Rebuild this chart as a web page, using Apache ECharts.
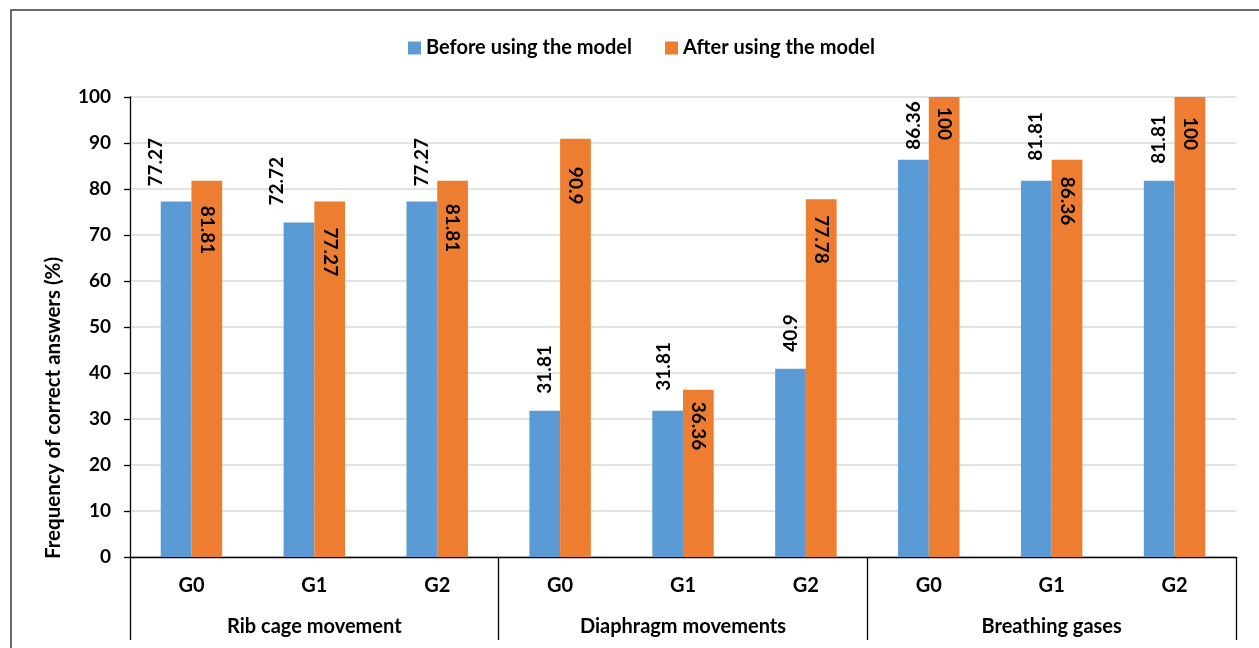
<!DOCTYPE html>
<html>
<head>
<meta charset="utf-8">
<title>Frequency of correct answers</title>
<script src="https://cdn.jsdelivr.net/npm/echarts@6/dist/echarts.min.js"></script>
<style>
  html, body { margin: 0; padding: 0; background: #ffffff; }
  #chart { width: 1259px; height: 648px; }
</style>
</head>
<body>
<div id="chart"></div>
<script>
// Groups on the x axis (G0, G1, G2 inside each topic)
const categories = ['G0', 'G1', 'G2', 'G0', 'G1', 'G2', 'G0', 'G1', 'G2'];
const topics = ['Rib cage movement', 'Diaphragm movements', 'Breathing gases'];

// Frequency of correct answers (%)
const beforeModel = [77.27, 72.72, 77.27, 31.81, 31.81, 40.9, 86.36, 81.81, 81.81];
const afterModel = [81.81, 77.27, 81.81, 90.9, 36.36, 77.78, 100, 86.36, 100];

const seriesNames = ['Before using the model', 'After using the model'];
const yTicks = { min: 0, max: 100, interval: 10 };

// Hand-placed label nudges (pixels): gap from bar end, sideways shift
const beforeLabelGap = [15, 17, 15, 17, 20, 17, 10, 20, 17];
const beforeLabelShift = [-20, -22, 0, 0, -4, 0, 0, 0, 0];
const afterLabelGap = [25, 26, 23, 28, 12, 16, 10, 17, 20];

const FONT = 'Lato, "Liberation Sans", sans-serif';
const BLUE = '#5b9bd5';
const ORANGE = '#ed7d31';

const chart = echarts.init(document.getElementById('chart'), null, { renderer: 'canvas' });

const labelText = {
  color: '#000000',
  fontFamily: FONT,
  fontWeight: 'bold',
  fontSize: 19
};

const beforeData = beforeModel.map((v, i) => ({
  value: v,
  label: {
    distance: beforeLabelGap[i],
    // offset is in the label's own (rotated) frame: y here moves it sideways
    offset: [0, beforeLabelShift[i]]
  }
}));

const afterData = afterModel.map((v, i) => ({
  value: v,
  label: { distance: afterLabelGap[i] }
}));

const option = {
  animation: false,
  backgroundColor: '#ffffff',
  textStyle: { fontFamily: FONT },
  graphic: [
    {
      type: 'rect',
      silent: true,
      shape: { x: 11, y: 10, width: 1400, height: 800 },
      style: { fill: 'none', stroke: '#3a3a3a', lineWidth: 1.5 }
    },
    {
      type: 'text',
      silent: true,
      x: 53,
      y: 408,
      rotation: Math.PI / 2,
      style: {
        text: 'Frequency of correct answers (%)',
        fontFamily: FONT,
        fontWeight: 'bold',
        fontSize: 20.5,
        fill: '#000000',
        align: 'center',
        verticalAlign: 'middle'
      }
    }
  ],
  legend: {
    top: 38,
    left: 408,
    padding: 0,
    itemWidth: 13,
    itemHeight: 13,
    itemGap: 33,
    icon: 'rect',
    textStyle: {
      fontFamily: FONT,
      fontWeight: 'bold',
      fontSize: 20,
      color: '#000000',
      padding: [0, 0, 0, 0]
    },
    data: seriesNames
  },
  grid: {
    left: 130,
    right: 23,
    top: 97,
    bottom: 91,
    containLabel: false
  },
  xAxis: [
    {
      type: 'category',
      data: categories,
      position: 'bottom',
      axisLine: { show: true, lineStyle: { color: '#000000', width: 1.3 } },
      axisTick: { show: false },
      axisLabel: {
        interval: 0,
        margin: 19,
        fontFamily: FONT,
        fontWeight: 'bold',
        fontSize: 20,
        color: '#000000'
      },
      splitLine: { show: false }
    },
    {
      type: 'category',
      data: topics,
      position: 'bottom',
      axisLine: { show: false },
      axisTick: {
        show: true,
        inside: false,
        length: 83,
        interval: 0,
        lineStyle: { color: '#000000', width: 1.3 }
      },
      axisLabel: {
        interval: 0,
        margin: 60,
        fontFamily: FONT,
        fontWeight: 'bold',
        fontSize: 20,
        color: '#000000'
      },
      splitLine: { show: false }
    }
  ],
  yAxis: {
    type: 'value',
    min: yTicks.min,
    max: yTicks.max,
    interval: yTicks.interval,
    axisLine: { show: true, lineStyle: { color: '#000000', width: 1.3 } },
    axisTick: { show: true, inside: false, length: 6, lineStyle: { color: '#000000', width: 1.3 } },
    axisLabel: {
      margin: 19,
      fontFamily: FONT,
      fontWeight: 'bold',
      fontSize: 19,
      color: '#000000'
    },
    splitLine: { show: true, lineStyle: { color: '#d9d9d9', width: 1.5 } }
  },
  series: [
    {
      name: seriesNames[0],
      type: 'bar',
      xAxisIndex: 0,
      barWidth: '25%',
      barGap: '0%',
      itemStyle: { color: BLUE },
      label: Object.assign({
        show: true,
        position: 'top',
        rotate: 90,
        align: 'left',
        verticalAlign: 'middle'
      }, labelText),
      data: beforeData
    },
    {
      name: seriesNames[1],
      type: 'bar',
      xAxisIndex: 0,
      barWidth: '25%',
      barGap: '0%',
      itemStyle: { color: ORANGE },
      label: Object.assign({
        show: true,
        position: 'insideTop',
        rotate: -90,
        align: 'left',
        verticalAlign: 'middle'
      }, labelText),
      data: afterData
    }
  ]
};

chart.setOption(option);
</script>
</body>
</html>
